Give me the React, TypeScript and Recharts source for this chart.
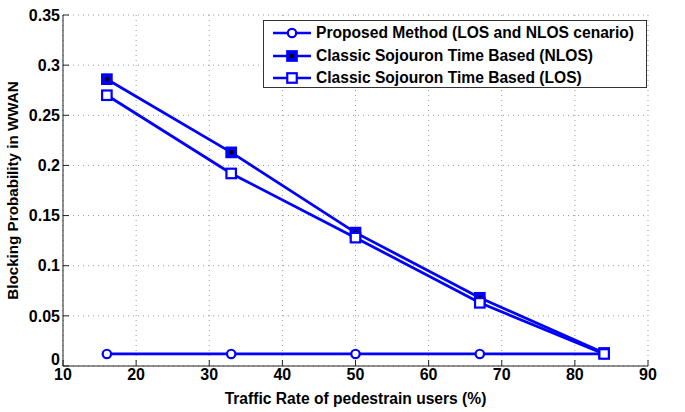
import React from "react";
import { CartesianGrid, Line, LineChart, XAxis, YAxis } from "recharts";

const trafficRates = [16, 33, 50, 67, 84];
const proposedMethod = [0.012, 0.012, 0.012, 0.012, 0.012];
const classicNlos = [0.286, 0.213, 0.133, 0.068, 0.013];
const classicLos = [0.27, 0.192, 0.128, 0.063, 0.012];

const xTicks = [10, 20, 30, 40, 50, 60, 70, 80, 90];
const yTicks = [0, 0.05, 0.1, 0.15, 0.2, 0.25, 0.3, 0.35];

const seriesNames = [
  "Proposed Method (LOS and NLOS cenario)",
  "Classic Sojouron Time Based (NLOS)",
  "Classic Sojouron Time Based (LOS)",
];

const BLUE = "#0000ff";
const FONT = "'Liberation Sans', Arial, sans-serif";

const data = trafficRates.map((rate, i) => ({
  rate,
  proposed: proposedMethod[i],
  nlos: classicNlos[i],
  los: classicLos[i],
}));

type Marker = "circle" | "filledSquare" | "openSquare";

const drawMarker = (kind: Marker, cx: number, cy: number, key?: string) => {
  if (kind === "circle") {
    return (
      <circle key={key} cx={cx} cy={cy} r={4.2} fill="#fff" stroke={BLUE} strokeWidth={2.2} />
    );
  }
  const s = 9.5;
  return (
    <g key={key}>
      <rect
        x={cx - s / 2}
        y={cy - s / 2}
        width={s}
        height={s}
        fill={kind === "filledSquare" ? BLUE : "#fff"}
        stroke={BLUE}
        strokeWidth={2.2}
      />
      {kind === "filledSquare" && (
        <rect x={cx - 2} y={cy - 2} width={4} height={4} fill="#000" />
      )}
    </g>
  );
};

const dotFor = (kind: Marker) => (props: any) =>
  drawMarker(kind, props.cx, props.cy, `${kind}-${props.index}`);

const markers: Marker[] = ["circle", "filledSquare", "openSquare"];

// legend drawn as an overlay so it doesn't eat into the plot area
const LegendBox = () => (
  <div
    style={{
      position: "absolute",
      left: 263,
      top: 20,
      width: 384,
      height: 68,
      border: "1px solid #333",
      background: "#fff",
      boxSizing: "border-box",
      paddingTop: 1,
    }}
  >
    {seriesNames.map((name, i) => (
      <div
        key={name}
        style={{ display: "flex", alignItems: "center", height: 22.5 }}
      >
        <svg width={52} height={20} style={{ flex: "none" }}>
          <line x1={9} x2={47} y1={10} y2={10} stroke={BLUE} strokeWidth={2.5} />
          {drawMarker(markers[i], 28, 10)}
        </svg>
        <span
          style={{
            fontFamily: FONT,
            fontWeight: "bold",
            fontSize: 15.6,
            color: "#000",
            whiteSpace: "nowrap",
          }}
        >
          {name}
        </span>
      </div>
    ))}
  </div>
);

const emptyTick = () => <g />;

const YTick = (props: any) => {
  const { x, y, payload } = props;
  const lift = payload.value === 0 ? -7 : 0;
  return (
    <text
      x={x}
      y={y + lift}
      dy="0.355em"
      textAnchor="end"
      fill="#000"
      fontFamily={FONT}
      fontWeight="bold"
      fontSize={16}
    >
      {String(payload.value)}
    </text>
  );
};

export default function App() {
  return (
    <div
      style={{
        position: "absolute",
        left: 0,
        top: 0,
        width: 685,
        height: 412,
        background: "#fff",
      }}
    >
      <LineChart
        width={685}
        height={412}
        data={data}
        margin={{ top: 15, right: 37, bottom: 0, left: 0 }}
      >
        <CartesianGrid stroke="#999" strokeDasharray="1 4" />
        <XAxis
          dataKey="rate"
          type="number"
          domain={[10, 90]}
          ticks={xTicks}
          height={46}
          stroke="#222"
          tickSize={-6}
          tickMargin={9}
          tick={{ fill: "#000", fontFamily: FONT, fontWeight: "bold", fontSize: 16 }}
          label={{
            value: "Traffic Rate of pedestrain users (%)",
            position: "insideBottom",
            offset: 8,
            fill: "#000",
            fontFamily: FONT,
            fontWeight: "bold",
            fontSize: 15.6,
          }}
          interval={0}
        />
        <XAxis
          xAxisId="top"
          orientation="top"
          type="number"
          domain={[10, 90]}
          ticks={xTicks}
          height={0}
          stroke="#222"
          tickSize={-6}
          tick={emptyTick}
          interval={0}
        />
        <YAxis
          type="number"
          domain={[0, 0.35]}
          ticks={yTicks}
          width={63}
          stroke="#222"
          tickSize={-6}
          tickMargin={9}
          interval={0}
          tick={<YTick />}
          label={{
            value: "Blocking Probability in WWAN",
            angle: -90,
            position: "insideLeft",
            offset: 13,
            style: { textAnchor: "middle" },
            fill: "#000",
            fontFamily: FONT,
            fontWeight: "bold",
            fontSize: 15.2,
          }}
        />
        <YAxis
          yAxisId="right"
          orientation="right"
          type="number"
          domain={[0, 0.35]}
          ticks={yTicks}
          width={0}
          stroke="#222"
          tickSize={-6}
          tick={emptyTick}
          interval={0}
        />
        <Line
          dataKey="proposed"
          name={seriesNames[0]}
          stroke={BLUE}
          strokeWidth={2.8}
          dot={dotFor("circle")}
          activeDot={false}
          isAnimationActive={false}
        />
        <Line
          dataKey="nlos"
          name={seriesNames[1]}
          stroke={BLUE}
          strokeWidth={2.8}
          dot={dotFor("filledSquare")}
          activeDot={false}
          isAnimationActive={false}
        />
        <Line
          dataKey="los"
          name={seriesNames[2]}
          stroke={BLUE}
          strokeWidth={2.8}
          dot={dotFor("openSquare")}
          activeDot={false}
          isAnimationActive={false}
        />
      </LineChart>
      <LegendBox />
    </div>
  );
}
